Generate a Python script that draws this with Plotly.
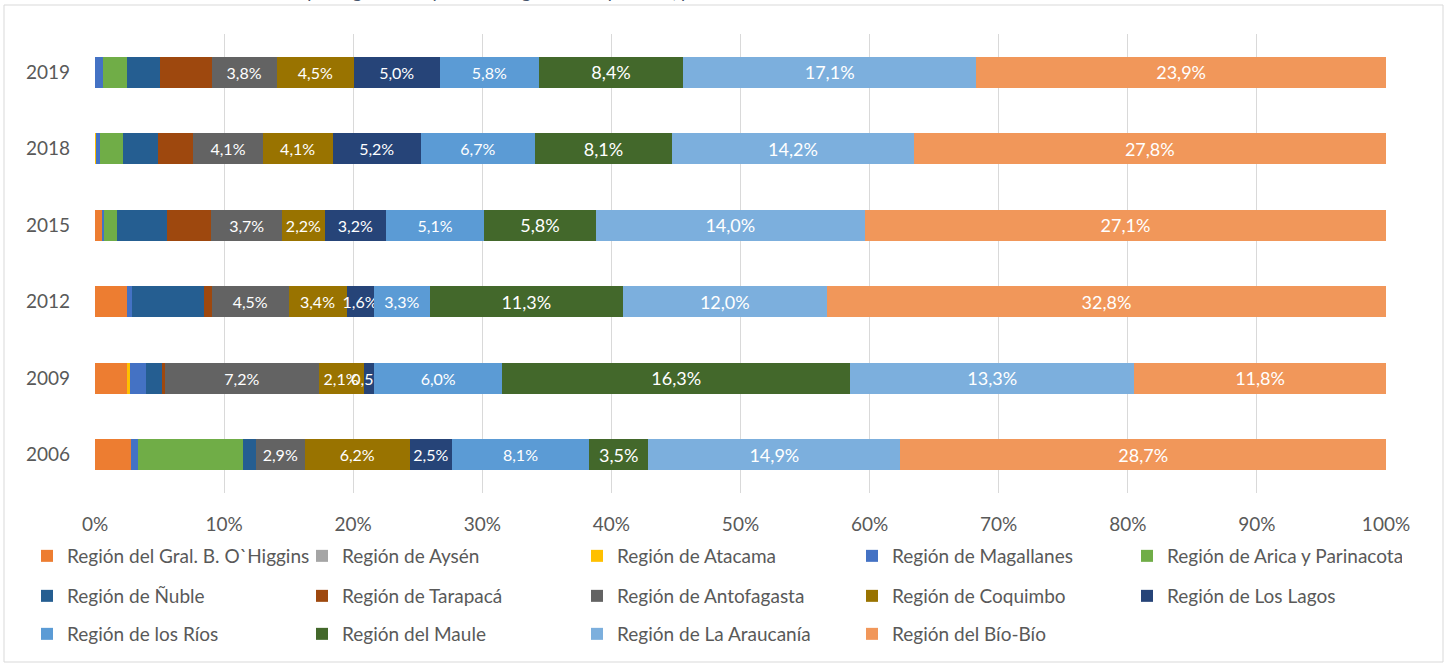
import plotly.graph_objects as go

# ── Datos (% de la matrícula nacional, según etiquetas del gráfico) ───────────
anios = ["2006", "2009", "2012", "2015", "2018", "2019"]

regiones = [
    "Región del Gral. B. O`Higgins", "Región de Aysén", "Región de Atacama",
    "Región de Magallanes", "Región de Arica y Parinacota",
    "Región de Ñuble", "Región de Tarapacá", "Región de Antofagasta",
    "Región de Coquimbo", "Región de Los Lagos",
    "Región de los Ríos", "Región del Maule", "Región de La Araucanía",
    "Región del Bío-Bío",
]

ohiggins    = [2.13, 1.50, 1.86, 0.35, 0.00, 0.00]
aysen       = [0.00, 0.00, 0.00, 0.00, 0.00, 0.00]
atacama     = [0.00, 0.14, 0.00, 0.00, 0.05, 0.00]
magallanes  = [0.44, 0.75, 0.29, 0.12, 0.27, 0.45]
arica       = [6.18, 0.00, 0.00, 0.66, 1.30, 1.44]
nuble       = [0.75, 0.75, 4.26, 2.63, 2.08, 1.88]
tarapaca    = [0.00, 0.14, 0.45, 2.28, 2.08, 3.03]
antofagasta = [2.9, 7.2, 4.5, 3.7, 4.1, 3.8]
coquimbo    = [6.2, 2.1, 3.4, 2.2, 4.1, 4.5]
los_lagos   = [2.5, 0.5, 1.6, 3.2, 5.2, 5.0]
los_rios    = [8.1, 6.0, 3.3, 5.1, 6.7, 5.8]
maule       = [3.5, 16.3, 11.3, 5.8, 8.1, 8.4]
araucania   = [14.9, 13.3, 12.0, 14.0, 14.2, 17.1]
biobio      = [28.7, 11.8, 32.8, 27.1, 27.8, 23.9]

series = [ohiggins, aysen, atacama, magallanes, arica, nuble, tarapaca,
          antofagasta, coquimbo, los_lagos, los_rios, maule, araucania, biobio]

colores = ["#ED7D31", "#A5A5A5", "#FFC000", "#4472C4", "#70AD47",
           "#255E91", "#9E480E", "#636363", "#997300", "#264478",
           "#5B9BD5", "#43682B", "#7CAFDD", "#F1975A"]

con_etiqueta = set(regiones[7:])
etiqueta_grande = {"Región del Maule", "Región de La Araucanía", "Región del Bío-Bío"}

FONT = "Lato, 'Open Sans', sans-serif"
GRIS = "#595959"

# posiciones en píxeles -> coordenadas "paper"
L, R, T, B = 95, 62, 34, 173
PW, PH = 1448 - L - R, 666 - T - B
px_x = lambda p: (p - L) / PW
px_y = lambda p: (666 - B - p) / PH

fig = go.Figure()
for i, (nombre, vals, col) in enumerate(zip(regiones, series, colores)):
    txt = None
    if nombre in con_etiqueta:
        txt = [f"{v:.1f}".replace(".", ",") + "%" for v in vals]
    fila = i // 5
    fig.add_trace(go.Bar(
        x=vals, y=anios, orientation="h", name=nombre,
        marker=dict(color=col, line_width=0),
        text=txt, textposition="inside", insidetextanchor="middle",
        constraintext="none", textangle=0,
        textfont=dict(color="white", family=FONT,
                      size=18 if nombre in etiqueta_grande else 16),
        legend=["legend", "legend2", "legend3"][fila],
        hovertemplate="%{y}: %{x:.1f}%<extra>" + nombre + "</extra>",
    ))

leg = dict(orientation="h", xanchor="left", yanchor="middle", x=px_x(27),
           entrywidth=230, entrywidthmode="pixels", traceorder="normal",
           font=dict(family=FONT, size=19, color=GRIS), bgcolor="rgba(0,0,0,0)")

fig.update_layout(
    barmode="stack", barnorm="percent", bargap=0.595,
    width=1448, height=666,
    margin=dict(l=L, r=R, t=T, b=B),
    plot_bgcolor="white", paper_bgcolor="white",
    font=dict(family=FONT, color=GRIS),
    legend=dict(leg, y=px_y(556)),
    legend2=dict(leg, y=px_y(596)),
    legend3=dict(leg, y=px_y(634)),
    showlegend=True,
)
fig.update_xaxes(range=[0, 100], dtick=10, ticksuffix="%", showgrid=True,
                 gridcolor="#D9D9D9", gridwidth=1, zeroline=False,
                 tickfont=dict(size=19, color=GRIS), ticklabelstandoff=18,
                 fixedrange=True)
fig.update_yaxes(categoryorder="array", categoryarray=anios, showgrid=False,
                 tickfont=dict(size=19, color=GRIS), ticklabelstandoff=24,
                 fixedrange=True)

# marco exterior del gráfico
fig.add_shape(type="rect", xref="paper", yref="paper",
              x0=px_x(4), x1=px_x(1443), y0=px_y(662), y1=px_y(5),
              line=dict(color="#D9D9D9", width=1), fillcolor="rgba(0,0,0,0)",
              layer="below")

# título (cortado en el borde superior, como en la imagen)
fig.add_annotation(
    text="<i>Gráfico 5: Distribución matrícula total por región excluyendo la Región Metropolitana, período 2006-2019</i>",
    xref="paper", yref="paper", x=px_x(4), y=px_y(4),
    xanchor="left", yanchor="bottom", showarrow=False,
    font=dict(family=FONT, size=19, color="#44546A"),
)

fig.write_html("out.html", config={"displayModeBar": False},
               post_script="document.body.style.margin='0';")
